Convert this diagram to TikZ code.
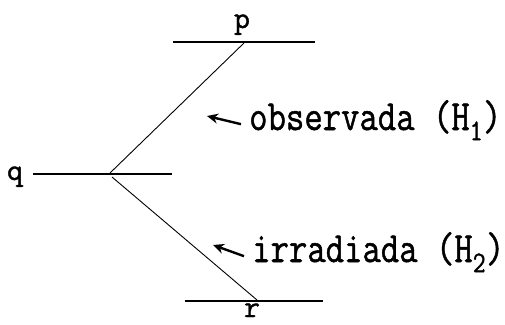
\documentclass[tikz,border=0pt]{standalone}
\usepackage{fontspec}
\setmonofont{Latin Modern Mono}[FakeBold=1.2]
\usepackage{graphicx}
\usetikzlibrary{arrows.meta}
\begin{document}
\begin{tikzpicture}[>=stealth,x=1pt,y=-1pt,
	nivel/.style={line width=1.8pt},
	transicao/.style={line width=0.9pt},
	flecha/.style={-{Stealth[length=11pt,width=10pt]},line width=2.4pt},
	letra/.style={font=\ttfamily\fontsize{31}{33}\selectfont,inner sep=0pt,anchor=base},
	rotulo/.style={font=\ttfamily\fontsize{43}{46}\selectfont,inner sep=0pt,anchor=base west}]
	\useasboundingbox (0,0) rectangle (505,324);
	% niveis
	\coordinate (pa) at (173,42); \coordinate (pb) at (315,42);
	\coordinate (qa) at (33,174); \coordinate (qb) at (172,174);
	\coordinate (ra) at (185,301); \coordinate (rb) at (323,301);
	\draw[nivel] (pa) -- (pb);
	\draw[nivel] (qa) -- (qb);
	\draw[nivel] (ra) -- (rb);
	\node[letra] (p) at (242,28) {p};
	\node[letra] (q) at (15,180) {q};
	\node[letra] (r) at (252,317) {r};
	% transicoes
	\coordinate (q1) at (110,173); \coordinate (p1) at (244,43);
	\coordinate (q2) at (112,177); \coordinate (r1) at (257,300);
	\draw[transicao] (q1) -- (p1);
	\draw[transicao] (q2) -- (r1);
	% rotulos
	\node[rotulo] (obs) at (249,130) {\scalebox{0.83}[1]{observada (H\textsubscript{1})}};
	\node[rotulo] (irr) at (252,262) {\scalebox{0.83}[1]{irradiada (H\textsubscript{2})}};
	\coordinate (t1) at (207,116);
	\coordinate (t2) at (213,245);
	\draw[flecha] ([shift={(-8,4)}]obs.west) -- (t1);
	\draw[flecha] ([shift={(-8,4)}]irr.west) -- (t2);
\end{tikzpicture}
\end{document}
